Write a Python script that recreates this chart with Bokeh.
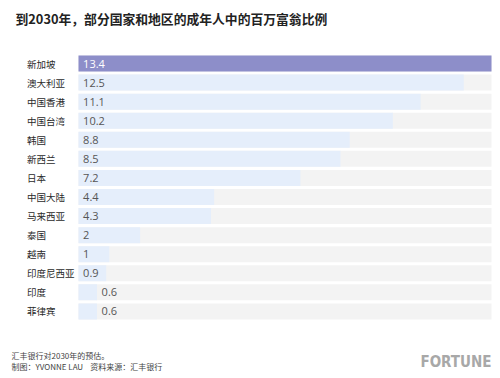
from bokeh.plotting import figure
from bokeh.models import Range1d, Label, ColumnDataSource
from bokeh.core.properties import value
from bokeh.embed import file_html
from bokeh.resources import INLINE

categories = ["新加坡", "澳大利亚", "中国香港", "中国台湾", "韩国", "新西兰", "日本",
              "中国大陆", "马来西亚", "泰国", "越南", "印度尼西亚", "印度", "菲律宾"]
values = [13.4, 12.5, 11.1, 10.2, 8.8, 8.5, 7.2, 4.4, 4.3, 2, 1, 0.9, 0.6, 0.6]
labels = ["13.4", "12.5", "11.1", "10.2", "8.8", "8.5", "7.2", "4.4", "4.3", "2", "1", "0.9", "0.6", "0.6"]
title_text = "到2030年，部分国家和地区的成年人中的百万富翁比例"
note_text = "汇丰银行对2030年的预估。"
credit_text = "制图：YVONNE LAU\u00a0\u00a0\u00a0\u00a0资料来源：汇丰银行"
brand_text = "FORTUNE"

W, H = 500, 376
x0_px = 78.0          # px where value 0 sits
x_max = max(values)
px_per_unit = (491.0 - x0_px) / x_max
row0_px = 63.0        # px of first row center
pitch = 19.07

x_start = -x0_px / px_per_unit
x_end = x_start + W / px_per_unit
y_top = -row0_px / pitch
y_bottom = y_top + H / pitch

n = len(categories)
idx = list(range(n))
fill = ["#8d8ec9" if i == 0 else "#e5eefb" for i in idx]
label_color = ["#ffffff" if i == 0 else "#555555" for i in idx]
small = [v < 0.8 for v in values]
label_x = [(v + 0.15) if s else 0.15 for v, s in zip(values, small)]

src = ColumnDataSource(dict(y=idx, v=values, cat=categories, lab=labels,
                            fill=fill, lc=label_color, lx=label_x,
                            full=[x_max] * n, zero=[0] * n,
                            cx=[x_start + 26.5 / px_per_unit] * n))

p = figure(width=W, height=H, output_backend="svg", toolbar_location=None,
           x_range=Range1d(x_start, x_end), y_range=Range1d(y_bottom, y_top),
           min_border=0, outline_line_color=None)
p.axis.visible = False
p.grid.visible = False
p.background_fill_color = "white"

bh = 16.0 / pitch
p.hbar(y="y", left="zero", right="full", height=bh, fill_color="#f3f3f3",
       line_color=None, source=src)
p.hbar(y="y", left="zero", right="v", height=bh, fill_color="fill",
       line_color=None, source=src)
p.text(x="lx", y="y", text="lab", text_color="lc", text_font_size="11px",
       text_baseline="middle", text_align="left", text_font=value("Open Sans"),
       source=src)
p.text(x="cx", y="y", text="cat", text_color="#2a2a2a", text_font_size="9.5px",
       text_baseline="middle", text_align="left",
       text_font=value("Noto Sans CJK SC"), source=src)

def top(y):
    return H - y

p.add_layout(Label(x=15, y=top(18), x_units="screen", y_units="screen", text=title_text,
                   text_font_size="12.8px", text_font="Noto Sans CJK SC",
                   text_font_style="bold", text_color="#222222",
                   text_baseline="middle"))
p.add_layout(Label(x=11, y=top(355), x_units="screen", y_units="screen", text=note_text,
                   text_font_size="8px", text_font="Noto Sans CJK SC",
                   text_color="#444444", text_baseline="middle"))
p.add_layout(Label(x=11, y=top(366), x_units="screen", y_units="screen", text=credit_text,
                   text_font_size="8px", text_font="Noto Sans CJK SC",
                   text_color="#444444", text_baseline="middle"))
p.add_layout(Label(x=491, y=top(361), x_units="screen", y_units="screen", text=brand_text,
                   text_font_size="15px", text_font="DejaVu Sans Condensed",
                   text_font_style="bold", text_color="#a8a8a8",
                   text_align="right", text_baseline="middle"))

open("out.html", "w").write(file_html(p, INLINE))
